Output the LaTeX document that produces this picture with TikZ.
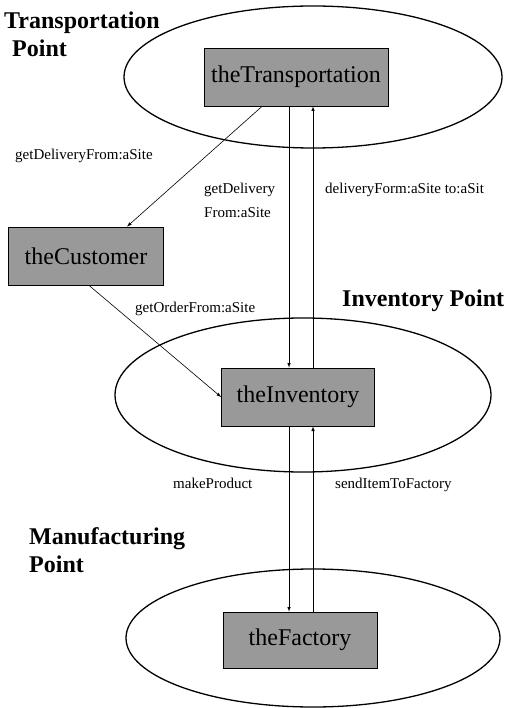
\documentclass[tikz,border=0pt]{standalone}
\usepackage{fontspec}
\setmainfont{Liberation Serif}

\tikzset{
  obj/.style={draw, line width=0.8pt, fill=black!40, minimum height=58pt, inner sep=4pt,
    font=\fontsize{24}{28}\selectfont},
  msg/.style={-latex, line width=0.6pt},
  lbl/.style={font=\fontsize{15}{24}\selectfont, inner sep=0pt, align=left},
  site/.style={font=\bfseries\fontsize{24}{28}\selectfont, inner sep=0pt, align=left}
}

\begin{document}
\begin{tikzpicture}[x=1pt,y=-1pt]
\useasboundingbox (0,0) rectangle (505,708);

\draw [line width=1.3pt] (313,77) ellipse [x radius=189, y radius=71];
\draw [line width=1.3pt] (303,395) ellipse [x radius=188, y radius=77];
\draw [line width=1.3pt] (313,638) ellipse [x radius=187, y radius=69];

\node[obj, minimum width=184pt] (trans) at (296,77) {theTransportation};
\node[obj, minimum width=155pt] (cust) at (86,256) {theCustomer};
\node[obj, minimum width=153pt] (inv) at (298,397) {theInventory};
\node[obj, minimum width=154pt, minimum height=56pt] (fact) at (300,640) {theFactory};

\coordinate (dn) at (289,0);
\coordinate (up) at (313,0);

\draw [msg] ([xshift=-34pt]trans.south) -- ([xshift=41pt]cust.north);
\draw [msg] ([xshift=3pt]cust.south) -- (inv.west);
\draw [msg] (trans.south -| dn) -- (inv.north -| dn);
\draw [msg] (inv.north -| up) -- (trans.south -| up);
\draw [msg] (inv.south -| dn) -- (fact.north -| dn);
\draw [msg] (fact.north -| up) -- (inv.south -| up);

\node[site, anchor=north west] (tpt) at (4,12) {Transportation\\\hspace*{8pt}Point};
\node[site, anchor=base west] (ipt) at (342,306) {Inventory Point};
\node[site, anchor=north west] (mpt) at (29,527) {Manufacturing\\Point};

\node[lbl, anchor=base west] (m1) at (15,160) {getDeliveryFrom:aSite};
\node[lbl, anchor=north west] (m2) at (204,183) {getDelivery\\From:aSite};
\node[lbl, anchor=base west] (m3) at (325,194) {deliveryForm:aSite to:aSit};
\node[lbl, anchor=base west] (m4) at (135,312) {getOrderFrom:aSite};
\node[lbl, anchor=base west] (m5) at (173,488) {makeProduct};
\node[lbl, anchor=base west] (m6) at (335,488) {sendItemToFactory};

\end{tikzpicture}
\end{document}
